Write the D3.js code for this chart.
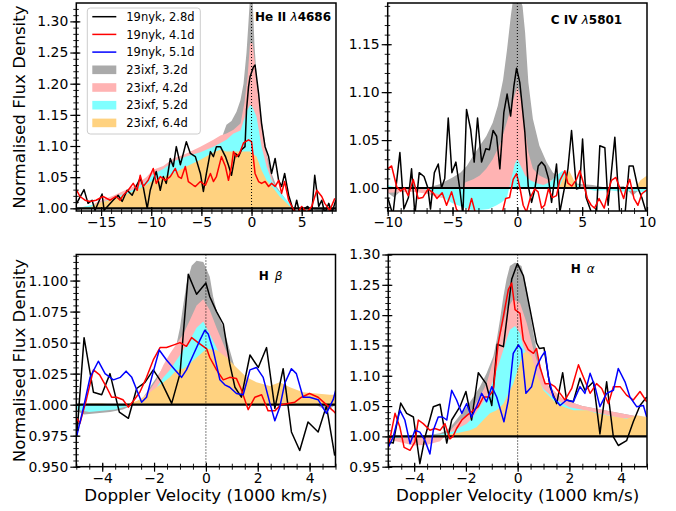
<!DOCTYPE html>
<html>
<head>
<meta charset="utf-8">
<script src="https://cdn.jsdelivr.net/npm/d3@7"></script>
<style>
  body { margin: 0; background: #fff; }
  svg { display: block; font-family: "DejaVu Sans", sans-serif; }
</style>
</head>
<body>
<svg id="chart" width="676" height="511"></svg>
<script>
// ---- legend / series names ----
const lineNames = ["19nyk, 2.8d", "19nyk, 4.1d", "19nyk, 5.1d"];
const fillNamesAll = ["23ixf, 3.2d", "23ixf, 4.2d", "23ixf, 5.2d", "23ixf, 6.4d"];

// ---- tick labels ----
const heXTicks = [-15, -10, -5, 0, 5];
const heYTicks = [1.00, 1.05, 1.10, 1.15, 1.20, 1.25, 1.30];
const civXTicks = [-10, -5, 0, 5, 10];
const civYTicks = [1.00, 1.05, 1.10, 1.15];
const hbXTicks = [-4, -2, 0, 2, 4];
const hbYTicks = [0.950, 0.975, 1.000, 1.025, 1.050, 1.075, 1.100];
const haXTicks = [-4, -2, 0, 2, 4];
const haYTicks = [0.95, 1.00, 1.05, 1.10, 1.15, 1.20, 1.25, 1.30];

// ---- He II 4686 : [velocity (1000 km/s), normalised flux] ----
const heBlack = [[-17.6,1.003],[-16.7,1.030],[-16.3,1.008],[-15.9,1.013],[-15.6,0.997],[-14.9,1.023],[-14.7,0.997],[-13.8,1.013],[-13.3,1.021],[-12.9,1.011],[-12.4,1.029],[-11.9,1.021],[-11.6,1.032],[-11.1,1.048],[-10.8,1.035],[-10.4,1.0],[-10.1,1.029],[-9.8,1.045],[-9.5,1.059],[-9.1,1.029],[-8.8,1.051],[-8.5,1.040],[-8.1,1.080],[-7.8,1.067],[-7.5,1.099],[-7.1,1.070],[-6.8,1.088],[-6.5,1.107],[-6.1,1.088],[-5.6,1.083],[-5.1,1.056],[-4.8,1.027],[-4.5,1.056],[-4.1,1.091],[-3.8,1.083],[-3.5,1.099],[-3.1,1.099],[-2.6,1.083],[-2.3,1.069],[-2.0,1.053],[-1.6,1.088],[-1.3,1.083],[-1.0,1.094],[-0.65,1.099],[-0.5,1.158],[-0.3,1.195],[-0.15,1.211],[0.2,1.227],[0.35,1.230],[0.7,1.185],[1.0,1.136],[1.35,1.099],[1.7,1.083],[2.0,1.056],[2.35,1.080],[2.7,1.045],[3.0,1.035],[3.3,1.056],[3.7,1.021],[4.0,1.005],[4.2,0.992],[4.5,1.013],[4.8,0.992],[5.3,1.0],[5.6,1.003],[6.0,0.992],[6.3,1.053],[6.7,1.003],[7.0,1.013],[7.3,0.992],[7.7,1.008],[8.0,0.992],[8.4,1.013]];
const heRed = [[-17.6,1.034],[-17.1,1.019],[-16.6,1.013],[-16.1,1.011],[-15.5,1.013],[-14.8,1.019],[-14.1,1.013],[-13.5,1.019],[-13.1,1.013],[-12.8,1.021],[-12.3,1.029],[-11.8,1.040],[-11.4,1.029],[-11.1,1.053],[-10.8,1.035],[-10.3,1.045],[-9.8,1.064],[-9.5,1.040],[-9.1,1.051],[-8.6,1.045],[-8.1,1.051],[-7.6,1.064],[-7.3,1.051],[-7.0,1.048],[-6.6,1.067],[-6.3,1.043],[-5.8,1.037],[-5.6,1.035],[-5.1,1.043],[-4.6,1.037],[-4.1,1.056],[-3.8,1.043],[-3.5,1.051],[-3.0,1.083],[-2.6,1.067],[-2.3,1.045],[-2.0,1.067],[-1.8,1.091],[-1.5,1.083],[-1.2,1.088],[-0.8,1.105],[-0.3,1.110],[0,1.107],[0.35,1.056],[0.7,1.043],[1.0,1.040],[1.35,1.043],[1.7,1.035],[2.0,1.040],[2.35,1.035],[2.7,1.045],[3.0,1.024],[3.3,1.043],[3.7,1.013],[4.2,0.997],[4.6,0.993],[5.0,1.003],[5.5,0.993],[6.0,1.003],[6.5,1.029],[7.0,1.019],[7.3,1.008],[7.8,0.997],[8.3,1.016]];
const heGray = [[-17.5,1.0],[-16,1.003],[-15,1.008],[-14,1.012],[-13,1.02],[-12,1.03],[-11,1.042],[-10,1.055],[-9,1.063],[-8,1.072],[-7,1.08],[-6,1.086],[-5,1.092],[-4,1.1],[-3,1.112],[-2.5,1.134],[-2,1.14],[-1.5,1.155],[-1.1,1.174],[-0.8,1.2],[-0.5,1.25],[-0.3,1.3],[-0.15,1.34],[0.1,1.34],[0.3,1.26],[0.6,1.19],[1.0,1.142],[1.5,1.088],[2.0,1.056],[2.5,1.035],[3.2,1.019],[3.8,1.005],[4.3,1.0],[5,0.998],[6,1.0],[6.5,0.995],[7,0.993],[7.5,0.993],[8,0.994],[8.4,0.996]];
const hePink = [[-17.5,1.0],[-16,1.004],[-15.4,1.01],[-13.8,1.02],[-11.8,1.035],[-10.5,1.05],[-9.8,1.062],[-8.8,1.068],[-7.8,1.08],[-6.5,1.088],[-5.1,1.099],[-3.8,1.11],[-3.1,1.117],[-2.5,1.12],[-1.8,1.126],[-1.1,1.136],[-0.7,1.17],[-0.4,1.21],[-0.15,1.265],[0.1,1.265],[0.5,1.211],[0.85,1.158],[1.2,1.11],[1.7,1.067],[2.2,1.040],[2.8,1.019],[3.5,1.005],[4.2,1.0],[5,0.998],[8.4,1.0]];
const heCyan = [[-17.5,1.0],[-15.4,1.007],[-13.8,1.016],[-11.8,1.03],[-10.5,1.044],[-9.8,1.055],[-8.8,1.063],[-7.8,1.075],[-6.5,1.083],[-5.1,1.09],[-3.8,1.099],[-3.1,1.105],[-2.5,1.11],[-1.8,1.12],[-1.1,1.125],[-0.5,1.155],[-0.15,1.166],[0.1,1.162],[0.5,1.147],[1.0,1.099],[1.5,1.067],[2.0,1.045],[2.5,1.032],[3.2,1.019],[3.8,1.008],[4.3,1.0],[5,0.998],[8.4,1.0]];
const heOrange = [[-17.5,1.0],[-16,1.002],[-15.4,1.008],[-13.8,1.014],[-12.5,1.022],[-11.8,1.027],[-10.5,1.037],[-9.8,1.045],[-8.8,1.05],[-7.8,1.056],[-6.5,1.067],[-5.1,1.078],[-3.8,1.09],[-3.1,1.094],[-2.5,1.091],[-1.8,1.091],[-1.1,1.091],[-0.15,1.091],[0.5,1.083],[1.0,1.061],[1.5,1.045],[2.2,1.032],[2.8,1.019],[3.5,1.008],[4.0,1.0],[5,0.998],[8.4,1.0]];

// ---- C IV 5801 ----
const civBlack = [[-10,0.99],[-9.6,0.972],[-9.06,1.037],[-8.75,0.978],[-8.4,0.99],[-8.16,1.020],[-7.9,0.972],[-7.57,1.016],[-7.2,1.012],[-6.9,1.0],[-6.7,0.978],[-6.4,1.016],[-6.1,1.025],[-5.85,1.0],[-5.6,1.01],[-5.33,1.073],[-5.05,1.016],[-4.74,1.027],[-4.45,1.0],[-4.2,0.972],[-3.92,1.082],[-3.6,1.061],[-3.33,1.027],[-3.07,1.073],[-2.76,1.027],[-2.43,1.041],[-2.15,1.040],[-1.87,1.060],[-1.6,1.054],[-1.35,1.020],[-1.04,1.079],[-0.79,1.098],[-0.52,1.075],[-0.27,1.106],[-0.06,1.125],[0.19,1.110],[0.58,1.058],[0.84,1.002],[1.1,0.985],[1.35,0.999],[1.61,1.023],[1.87,1.027],[2.13,1.023],[2.4,1.01],[2.64,0.985],[3.02,1.025],[3.28,0.975],[3.66,1.002],[3.9,1.02],[4.18,1.060],[4.56,0.999],[4.8,1.0],[5.03,1.051],[5.3,0.99],[5.7,0.975],[6.1,0.972],[6.36,1.044],[6.75,1.042],[7.0,0.982],[7.52,1.053],[7.9,0.972],[8.3,0.972],[8.62,1.023],[8.93,1.023],[9.3,1.0],[9.6,0.99],[10,0.972]];
const civRed = [[-10,1.020],[-9.7,1.023],[-9.3,1.001],[-9.0,0.997],[-8.7,1.0],[-8.42,0.992],[-8.03,1.009],[-7.65,0.989],[-7.3,0.99],[-6.88,0.999],[-6.5,0.995],[-6.2,0.989],[-5.8,0.995],[-5.46,0.982],[-5.07,0.996],[-4.7,0.978],[-4.4,0.972],[-3.8,0.975],[-3.53,0.989],[-3.2,0.972],[-1.2,0.972],[-0.9,0.989],[-0.6,0.99],[-0.32,1.009],[-0.06,1.015],[0.2,1.0],[0.45,0.982],[0.7,0.975],[1.0,0.99],[1.35,0.999],[1.6,0.996],[1.87,0.979],[2.1,0.982],[2.4,0.999],[2.7,0.99],[3.02,0.992],[3.28,1.008],[3.66,1.018],[3.9,1.005],[4.2,1.002],[4.56,1.009],[4.82,1.018],[5.1,1.005],[5.4,0.989],[5.7,0.982],[5.96,0.979],[6.3,0.989],[6.7,0.979],[7.0,0.996],[7.26,1.008],[7.6,1.011],[7.9,1.0],[8.2,0.989],[8.4,1.0],[8.67,1.009],[9.0,0.989],[9.3,0.982],[9.6,0.994],[10,0.998]];
const civGray = [[-10,0.995],[-9.5,0.99],[-9,0.997],[-8,1.0],[-7,1.0],[-6,1.004],[-5,1.011],[-4.4,1.016],[-3.9,1.023],[-3.4,1.034],[-2.9,1.044],[-2.4,1.054],[-1.9,1.068],[-1.5,1.086],[-1.1,1.113],[-0.8,1.144],[-0.5,1.18],[-0.3,1.2],[0.1,1.2],[0.4,1.19],[0.6,1.162],[0.85,1.11],[1.2,1.072],[1.7,1.044],[2.25,1.027],[2.75,1.016],[3.5,1.009],[4.3,1.005],[5.8,1.003],[7,1.0],[8.2,1.002],[8.9,0.992],[9.7,1.002],[10,1.0]];
const civPink = [[-10,0.995],[-8,0.996],[-7,0.994],[-6,0.99],[-5,0.988],[-4.5,0.99],[-4,1.006],[-3.4,1.009],[-2.9,1.013],[-2.4,1.02],[-1.9,1.03],[-1.3,1.047],[-0.8,1.069],[-0.3,1.093],[0,1.105],[0.3,1.093],[0.6,1.061],[0.85,1.037],[1.2,1.020],[1.7,1.013],[2.3,1.009],[3.3,1.006],[4.3,1.003],[5.8,1.0],[8,0.998],[10,0.998]];
const civCyan = [[-10,1.003],[-9,0.999],[-8,1.002],[-7,0.998],[-6,0.993],[-5.5,0.988],[-5,0.984],[-4.2,0.98],[-3.5,0.977],[-2.9,0.977],[-2.2,0.978],[-1.6,0.982],[-1.2,0.985],[-0.8,0.99],[-0.5,1.008],[-0.2,1.025],[0,1.03],[0.3,1.022],[0.6,1.013],[1.0,1.008],[1.5,1.005],[2,1.003],[2.5,1.006],[3,1.013],[3.5,1.018],[4,1.012],[4.5,1.005],[5,1.0],[6,0.997],[7,0.998],[8,0.996],[9,0.997],[10,0.995]];
const civOrange = [[-10,1.0],[3.2,1.0],[3.6,1.012],[4.0,1.018],[4.3,1.01],[4.6,1.0],[9.1,1.0],[9.5,1.008],[10,1.013]];

// ---- H beta ----
const hbBlack = [[-4.98,0.975],[-4.7,1.054],[-4.34,1.010],[-4.02,1.008],[-3.7,1.025],[-3.34,0.994],[-2.99,0.989],[-2.67,1.013],[-2.35,1.018],[-2.03,1.028],[-1.71,1.018],[-1.32,1.001],[-1.0,1.025],[-0.68,1.105],[-0.36,1.089],[0,1.098],[0.15,1.087],[0.41,1.075],[0.67,1.065],[0.92,1.033],[1.12,1.014],[1.37,1.006],[1.7,1.040],[2.02,1.030],[2.34,1.046],[2.66,0.997],[2.98,1.029],[3.3,0.978],[3.62,0.963],[3.94,0.986],[4.33,0.978],[4.65,0.999],[4.97,0.959]];
const hbRed = [[-4.98,0.989],[-4.86,0.985],[-4.6,1.005],[-4.34,1.028],[-4.1,1.024],[-3.83,1.014],[-3.64,1.006],[-3.45,1.006],[-3.2,1.004],[-2.99,0.998],[-2.8,1.003],[-2.55,1.01],[-2.29,1.022],[-2.03,1.036],[-1.77,1.046],[-1.52,1.046],[-1.26,1.048],[-1.0,1.050],[-0.75,1.047],[-0.55,1.054],[-0.3,1.050],[-0.1,1.047],[0.03,1.045],[0.15,1.038],[0.41,1.028],[0.67,1.020],[0.92,1.022],[1.18,1.021],[1.37,1.012],[1.63,0.996],[1.89,1.006],[2.15,1.008],[2.4,0.995],[2.66,0.995],[2.9,1.0],[3.17,1.001],[3.43,1.002],[3.69,1.006],[4.0,1.009],[4.33,1.006],[4.59,1.001],[4.91,0.995],[5.0,0.993]];
const hbBlue = [[-4.98,0.975],[-4.73,0.997],[-4.47,1.022],[-4.15,1.035],[-3.89,1.025],[-3.57,1.020],[-3.3,1.022],[-3.08,1.027],[-2.86,1.022],[-2.67,1.012],[-2.48,1.002],[-2.29,1.006],[-2.09,1.022],[-1.8,1.044],[-1.52,1.036],[-1.19,1.028],[-0.94,1.022],[-0.75,1.028],[-0.49,1.040],[-0.23,1.052],[-0.04,1.060],[0.09,1.057],[0.28,1.044],[0.54,1.020],[0.73,1.016],[0.92,1.014],[1.18,1.009],[1.44,1.008],[1.7,1.028],[1.95,1.030],[2.21,1.022],[2.47,1.001],[2.66,0.987],[2.85,0.998],[3.04,1.017],[3.3,1.029],[3.49,1.025],[3.75,1.006],[4.0,1.006],[4.33,1.004],[4.65,0.993],[4.91,1.004],[5.04,1.014]];
const hbGray = [[-5,0.995],[-4.7,0.992],[-4.2,0.993],[-3.7,0.994],[-3.2,0.996],[-2.9,0.999],[-2.67,1.002],[-2.41,1.006],[-2.16,1.014],[-1.9,1.022],[-1.64,1.030],[-1.39,1.038],[-1.13,1.049],[-1.0,1.062],[-0.87,1.081],[-0.75,1.097],[-0.55,1.112],[-0.36,1.116],[-0.1,1.115],[0.15,1.103],[0.28,1.087],[0.41,1.076],[0.67,1.062],[0.92,1.044],[1.18,1.025],[1.44,1.014],[1.7,1.011],[2.2,1.01],[3,1.008],[4,1.003],[4.5,0.997],[4.8,0.997],[5,1.0]];
const hbPink = [[-5,0.997],[-4,0.997],[-3,0.999],[-2.5,1.004],[-2.16,1.012],[-1.9,1.02],[-1.64,1.032],[-1.39,1.041],[-1.13,1.049],[-0.87,1.057],[-0.62,1.068],[-0.36,1.080],[-0.1,1.085],[0.15,1.076],[0.41,1.062],[0.67,1.049],[0.92,1.036],[1.18,1.022],[1.5,1.013],[2,1.008],[3,1.005],[4,1.002],[5,1.0]];
const hbCyan = [[-5,0.996],[-4.5,0.994],[-4,0.995],[-3.5,0.996],[-3,0.999],[-2.5,1.004],[-2.16,1.009],[-1.9,1.014],[-1.64,1.022],[-1.39,1.028],[-1.13,1.036],[-0.87,1.044],[-0.62,1.052],[-0.36,1.062],[-0.1,1.067],[0.15,1.057],[0.41,1.046],[0.67,1.035],[0.92,1.025],[1.2,1.016],[1.6,1.01],[2.5,1.006],[3.5,1.004],[5,1.0]];
const hbOrange = [[-5,1.0],[-4.5,1.001],[-4,1.001],[-3.5,1.0],[-3,1.001],[-2.67,1.003],[-2.41,1.006],[-2.16,1.010],[-1.9,1.014],[-1.64,1.018],[-1.39,1.022],[-1.13,1.028],[-0.87,1.029],[-0.62,1.033],[-0.36,1.038],[0.03,1.045],[0.41,1.044],[0.8,1.038],[1.18,1.030],[1.57,1.022],[1.95,1.018],[2.47,1.015],[2.85,1.018],[3.24,1.014],[3.75,1.010],[4.26,1.009],[4.78,1.008],[5,1.008]];

// ---- H alpha ----
const haBlack = [[-5.0,0.991],[-4.81,0.989],[-4.52,1.055],[-4.29,1.038],[-4.03,1.032],[-3.78,0.955],[-3.58,0.999],[-3.26,1.049],[-3.0,1.053],[-2.74,0.989],[-2.55,1.027],[-2.23,1.049],[-2.0,1.074],[-1.78,1.027],[-1.52,1.105],[-1.22,1.087],[-1.0,1.051],[-0.79,1.152],[-0.55,1.148],[-0.23,1.259],[-0.01,1.285],[0.22,1.265],[0.48,1.209],[0.73,1.154],[0.84,1.145],[1.02,1.146],[1.25,1.082],[1.51,1.054],[1.74,1.105],[1.89,1.060],[2.15,1.057],[2.41,1.096],[2.6,1.076],[2.93,1.090],[3.18,1.004],[3.44,1.090],[3.7,0.999],[3.89,0.985],[4.21,0.993],[4.47,1.024],[4.73,1.051],[4.99,1.065]];
const haRed = [[-5.0,0.982],[-4.74,1.038],[-4.55,1.015],[-4.39,0.982],[-4.16,0.977],[-3.97,0.991],[-3.84,1.027],[-3.65,1.021],[-3.39,1.010],[-3.2,1.013],[-3.0,1.010],[-2.81,1.021],[-2.62,0.996],[-2.5,1.0],[-2.36,1.013],[-2.16,1.027],[-1.95,1.035],[-1.71,1.043],[-1.52,1.049],[-1.33,1.065],[-1.13,1.065],[-0.94,1.076],[-0.75,1.154],[-0.55,1.198],[-0.36,1.242],[-0.23,1.253],[-0.1,1.209],[0.09,1.203],[0.22,1.159],[0.41,1.143],[0.61,1.137],[0.73,1.145],[0.86,1.115],[1.06,1.087],[1.25,1.087],[1.44,1.082],[1.64,1.071],[1.83,1.060],[2.09,1.079],[2.35,1.118],[2.54,1.098],[2.8,1.071],[3.05,1.087],[3.25,1.079],[3.51,1.054],[3.7,1.082],[3.96,1.082],[4.21,1.068],[4.47,1.060],[4.73,1.074],[4.99,1.057]];
const haBlue = [[-5.0,0.982],[-4.81,0.999],[-4.55,1.043],[-4.36,1.027],[-4.16,0.988],[-3.97,1.010],[-3.78,1.007],[-3.58,0.993],[-3.39,0.971],[-3.26,1.010],[-3.07,1.032],[-2.9,1.032],[-2.74,1.027],[-2.55,1.076],[-2.36,1.060],[-2.16,1.038],[-1.97,1.054],[-1.78,1.032],[-1.59,1.049],[-1.39,1.071],[-1.2,1.057],[-1.0,1.082],[-0.81,1.065],[-0.53,1.024],[-0.36,1.060],[-0.17,1.137],[0.03,1.151],[0.15,1.143],[0.32,1.071],[0.54,1.082],[0.73,1.115],[0.93,1.132],[1.06,1.140],[1.19,1.098],[1.38,1.065],[1.64,1.051],[1.89,1.060],[2.15,1.057],[2.41,1.082],[2.6,1.071],[2.8,1.104],[2.99,1.082],[3.18,1.049],[3.44,1.071],[3.7,1.076],[3.89,1.112],[4.15,1.090],[4.34,1.065],[4.6,1.049],[4.86,1.051],[4.99,1.032]];
const haGray = [[-5,0.998],[-4,1.0],[-3.5,1.002],[-3,1.005],[-2.74,1.010],[-2.49,1.021],[-2.23,1.035],[-1.97,1.049],[-1.71,1.065],[-1.46,1.082],[-1.2,1.104],[-0.94,1.132],[-0.81,1.159],[-0.68,1.193],[-0.55,1.231],[-0.43,1.259],[-0.3,1.281],[-0.1,1.287],[0.15,1.281],[0.35,1.243],[0.48,1.203],[0.61,1.17],[0.73,1.143],[0.86,1.12],[0.99,1.098],[1.12,1.082],[1.38,1.071],[1.8,1.06],[2.5,1.05],[5,1.03]];
const haPink = [[-5,0.995],[-4.5,0.99],[-4,0.985],[-3.5,0.986],[-3,0.992],[-2.74,1.003],[-2.49,1.015],[-2.23,1.027],[-1.97,1.035],[-1.71,1.049],[-1.46,1.065],[-1.2,1.087],[-0.94,1.126],[-0.68,1.165],[-0.43,1.209],[-0.17,1.226],[0.09,1.22],[0.35,1.187],[0.61,1.143],[0.86,1.109],[1.12,1.087],[1.38,1.076],[1.8,1.06],[2.5,1.05],[5,1.03]];
const haCyan = [[-5,0.997],[-4,0.999],[-3,1.003],[-2.5,1.008],[-2.23,1.015],[-1.97,1.021],[-1.71,1.032],[-1.46,1.049],[-1.2,1.065],[-0.94,1.093],[-0.68,1.126],[-0.43,1.159],[-0.3,1.176],[-0.1,1.182],[0.09,1.17],[0.22,1.148],[0.4,1.13],[0.7,1.1],[1.0,1.078],[1.4,1.063],[2,1.048],[3,1.04],[4,1.03],[5,1.03]];
const haOrange = [[-5,1.0],[-4,1.001],[-3,1.002],[-2.5,1.004],[-1.84,1.010],[-1.59,1.015],[-1.33,1.027],[-1.07,1.038],[-0.81,1.043],[-0.55,1.054],[-0.3,1.076],[-0.17,1.087],[-0.04,1.104],[0.09,1.121],[0.22,1.137],[0.35,1.140],[0.54,1.132],[0.73,1.104],[0.99,1.076],[1.25,1.065],[1.51,1.054],[1.77,1.049],[2.15,1.043],[2.67,1.043],[3.05,1.038],[3.44,1.035],[3.83,1.032],[4.21,1.029],[4.6,1.035],[4.99,1.032]];

// ---- styles ----
const fillColors = ["#aaaaaa", "#ffb3b3", "#80ffff", "#ffd280"];
const lineColors = ["#000000", "#ff0000", "#0000ff"];

const panels = [
  { id: "he", box: [76.3, 3, 336, 211], xDomain: [-17.47, 8.42], yDomain: [0.9957, 1.3295],
    xTicks: heXTicks, xMinor: 1, yTicks: heYTicks, yMinor: 0.01, yFmt: ".2f",
    fills: [heGray, hePink, heCyan, heOrange], lines: [heBlack, heRed, null],
    label: { at: [0.35, 1.301], head: "He II ", greek: "λ", tail: "4686", gap: 0 } },
  { id: "civ", box: [387.7, 3, 647, 211], xDomain: [-10, 10], yDomain: [0.976, 1.193],
    xTicks: civXTicks, xMinor: 1, yTicks: civYTicks, yMinor: 0.01, yFmt: ".2f",
    fills: [civGray, civPink, civCyan, civOrange], lines: [civBlack, civRed, null],
    label: { at: [2.58, 1.171], head: "C IV ", greek: "λ", tail: "5801", gap: 0 } },
  { id: "hb", box: [76.3, 254.5, 335.5, 466.7], xDomain: [-5, 5], yDomain: [0.95, 1.121],
    xTicks: hbXTicks, xMinor: 0.5, yTicks: hbYTicks, yMinor: 0.005, yFmt: ".3f",
    fills: [hbGray, hbPink, hbCyan, hbOrange], lines: [hbBlack, hbRed, hbBlue],
    label: { at: [2.04, 1.1005], head: "H", greek: "β", tail: "", gap: 6 } },
  { id: "ha", box: [388.3, 254.5, 647, 466.7], xDomain: [-5, 5], yDomain: [0.95, 1.30],
    xTicks: haXTicks, xMinor: 0.5, yTicks: haYTicks, yMinor: 0.01, yFmt: ".2f",
    fills: [haGray, haPink, haCyan, haOrange], lines: [haBlack, haRed, haBlue],
    label: { at: [2.05, 1.27], head: "H", greek: "α", tail: "", gap: 6 } }
];

const svg = d3.select("#chart");
const defs = svg.append("defs");

function minorValues(domain, step) {
  const lo = Math.ceil(domain[0] / step - 1e-9), hi = Math.floor(domain[1] / step + 1e-9);
  return d3.range(lo, hi + 1).map(i => +(i * step).toFixed(4));
}

panels.forEach(p => {
  const [x0, y0, x1, y1] = p.box;
  const w = x1 - x0, h = y1 - y0;
  const x = d3.scaleLinear().domain(p.xDomain).range([0, w]);
  const y = d3.scaleLinear().domain(p.yDomain).range([h, 0]);
  const g = svg.append("g").attr("transform", `translate(${x0},${y0})`);

  defs.append("clipPath").attr("id", "clip-" + p.id)
    .append("rect").attr("width", w).attr("height", h);
  const plot = g.append("g").attr("clip-path", `url(#clip-${p.id})`);

  // filled spectra, between continuum (1.0) and flux
  const area = d3.area().x(d => x(d[0])).y0(y(1)).y1(d => y(d[1]));
  p.fills.forEach((data, i) => {
    plot.append("path").datum(data).attr("d", area).attr("fill", fillColors[i]);
  });

  // continuum line
  plot.append("line").attr("x1", 0).attr("x2", w).attr("y1", y(1)).attr("y2", y(1))
    .attr("stroke", "#000").attr("stroke-width", 2.2);

  // 19nyk spectra
  const line = d3.line().x(d => x(d[0])).y(d => y(d[1]));
  p.lines.forEach((data, i) => {
    if (!data) return;
    plot.append("path").datum(data).attr("d", line).attr("fill", "none")
      .attr("stroke", lineColors[i]).attr("stroke-width", 1.5).attr("stroke-linejoin", "round");
  });

  // rest velocity
  plot.append("line").attr("x1", x(0)).attr("x2", x(0)).attr("y1", 0).attr("y2", h)
    .attr("stroke", "#000").attr("stroke-width", 1).attr("stroke-dasharray", "1,2");

  // axes
  const xa = g.append("g").attr("transform", `translate(0,${h})`)
    .call(d3.axisBottom(x).tickValues(p.xTicks).tickSize(5).tickFormat(d3.format("d")));
  xa.select(".domain").remove();
  xa.selectAll(".tick line").attr("y1", -4).attr("stroke-width", 1.2);
  xa.selectAll(".tick text").attr("y", 16).attr("dy", 0);
  const xm = g.append("g").attr("transform", `translate(0,${h})`)
    .call(d3.axisBottom(x).tickValues(minorValues(p.xDomain, p.xMinor)).tickSize(3).tickFormat(""));
  xm.select(".domain").remove();
  xm.selectAll(".tick line").attr("y1", -3).attr("stroke-width", 0.9);

  const ya = g.append("g")
    .call(d3.axisLeft(y).tickValues(p.yTicks).tickSize(6).tickFormat(d3.format(p.yFmt)));
  ya.select(".domain").remove();
  ya.selectAll(".tick line").attr("x1", 4).attr("stroke-width", 1.2);
  ya.selectAll(".tick text").attr("x", -8);
  const ym = g.append("g")
    .call(d3.axisLeft(y).tickValues(minorValues(p.yDomain, p.yMinor)).tickSize(3).tickFormat(""));
  ym.select(".domain").remove();
  ym.selectAll(".tick line").attr("x1", 2.5).attr("stroke-width", 0.9);

  [xa, ya].forEach(a => a.attr("font-family", null).attr("font-size", null)
    .selectAll("text").style("font-size", "13.9px").attr("fill", "#000"));

  // line label
  const t = g.append("text").attr("x", x(p.label.at[0])).attr("y", y(p.label.at[1]))
    .style("font-size", "12px").attr("fill", "#000");
  t.append("tspan").attr("font-weight", "bold").text(p.label.head);
  t.append("tspan").attr("dx", p.label.gap).attr("font-style", "italic").text(p.label.greek);
  if (p.label.tail) t.append("tspan").attr("font-weight", "bold").text(p.label.tail);

  // frame
  g.append("rect").attr("width", w).attr("height", h).attr("fill", "none")
    .attr("stroke", "#000").attr("stroke-width", 1.5);

  // legend (first panel only)
  if (p.id === "he") {
    const lg = g.append("g").attr("transform", "translate(11,5)");
    lg.append("rect").attr("width", 113).attr("height", 126).attr("rx", 3)
      .attr("fill", "#fff").attr("fill-opacity", 0.8).attr("stroke", "#cccccc");
    const items = lineNames.map((n, i) => ({ name: n, kind: "line", color: lineColors[i] }))
      .concat(fillNamesAll.map((n, i) => ({ name: n, kind: "fill", color: fillColors[i] })));
    items.forEach((it, i) => {
      const cy = 8.7 + i * 17.7;
      if (it.kind === "line") {
        lg.append("line").attr("x1", 5).attr("x2", 29).attr("y1", cy).attr("y2", cy)
          .attr("stroke", it.color).attr("stroke-width", 1.5);
      } else {
        lg.append("rect").attr("x", 5).attr("y", cy - 4.3).attr("width", 24).attr("height", 8.6)
          .attr("fill", it.color);
      }
      lg.append("text").attr("x", 39).attr("y", cy + 4.2).style("font-size", "11.5px")
        .attr("fill", "#000").text(it.name);
    });
  }
});

// axis titles
[107, 360.6].forEach(cy => {
  svg.append("text").attr("transform", `translate(25,${cy}) rotate(-90)`)
    .attr("text-anchor", "middle").style("font-size", "16.7px").attr("fill", "#000")
    .text("Normalised Flux Density");
});
[205.9, 517.6].forEach(cx => {
  svg.append("text").attr("x", cx).attr("y", 501).attr("text-anchor", "middle")
    .style("font-size", "16.7px").attr("fill", "#000").text("Doppler Velocity (1000 km/s)");
});
</script>
</body>
</html>
